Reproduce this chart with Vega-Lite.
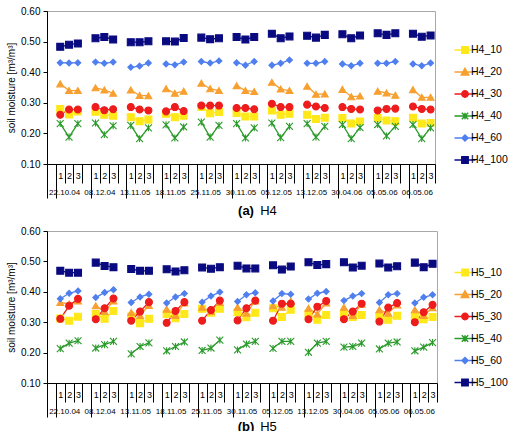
{
  "$schema": "https://vega.github.io/schema/vega-lite/v6.json",
  "padding": {"left": 6, "top": 5, "right": 0, "bottom": 0},
  "spacing": 7,
  "config": {"font": "Liberation Sans", "view": {"stroke": "#a8a8a8"}, "axis": {"domainColor": "#000", "tickColor": "#000", "labelColor": "#000", "titleColor": "#000", "grid": false}},
  "datasets": {
    "h4": [
      {"d":"22.10.04","x":"22.10.04|1","H4_10":0.280,"H4_20":0.362,"H4_30":0.261,"H4_40":0.232,"H4_60":0.431,"H4_100":0.483},
      {"d":"22.10.04","x":"22.10.04|2","H4_10":0.262,"H4_20":0.340,"H4_30":0.278,"H4_40":0.188,"H4_60":0.430,"H4_100":0.490},
      {"d":"22.10.04","x":"22.10.04|3","H4_10":0.272,"H4_20":0.340,"H4_30":0.278,"H4_40":0.232,"H4_60":0.431,"H4_100":0.494},
      {"d":"08.12.04","x":"08.12.04|1","H4_10":0.271,"H4_20":0.349,"H4_30":0.286,"H4_40":0.234,"H4_60":0.433,"H4_100":0.511},
      {"d":"08.12.04","x":"08.12.04|2","H4_10":0.261,"H4_20":0.342,"H4_30":0.276,"H4_40":0.196,"H4_60":0.429,"H4_100":0.515},
      {"d":"08.12.04","x":"08.12.04|3","H4_10":0.258,"H4_20":0.331,"H4_30":0.279,"H4_40":0.225,"H4_60":0.433,"H4_100":0.507},
      {"d":"13.11.05","x":"13.11.05|1","H4_10":0.253,"H4_20":0.342,"H4_30":0.286,"H4_40":0.226,"H4_60":0.416,"H4_100":0.498},
      {"d":"13.11.05","x":"13.11.05|2","H4_10":0.240,"H4_20":0.324,"H4_30":0.278,"H4_40":0.183,"H4_60":0.420,"H4_100":0.498},
      {"d":"13.11.05","x":"13.11.05|3","H4_10":0.245,"H4_20":0.323,"H4_30":0.275,"H4_40":0.218,"H4_60":0.430,"H4_100":0.501},
      {"d":"18.11.05","x":"18.11.05|1","H4_10":0.264,"H4_20":0.346,"H4_30":0.272,"H4_40":0.228,"H4_60":0.427,"H4_100":0.501},
      {"d":"18.11.05","x":"18.11.05|2","H4_10":0.253,"H4_20":0.331,"H4_30":0.286,"H4_40":0.185,"H4_60":0.424,"H4_100":0.500},
      {"d":"18.11.05","x":"18.11.05|3","H4_10":0.258,"H4_20":0.338,"H4_30":0.273,"H4_40":0.221,"H4_60":0.433,"H4_100":0.512},
      {"d":"25.11.05","x":"25.11.05|1","H4_10":0.286,"H4_20":0.364,"H4_30":0.291,"H4_40":0.237,"H4_60":0.435,"H4_100":0.513},
      {"d":"25.11.05","x":"25.11.05|2","H4_10":0.266,"H4_20":0.346,"H4_30":0.291,"H4_40":0.188,"H4_60":0.430,"H4_100":0.508},
      {"d":"25.11.05","x":"25.11.05|3","H4_10":0.270,"H4_20":0.340,"H4_30":0.291,"H4_40":0.226,"H4_60":0.437,"H4_100":0.511},
      {"d":"30.11.05","x":"30.11.05|1","H4_10":0.267,"H4_20":0.356,"H4_30":0.283,"H4_40":0.232,"H4_60":0.431,"H4_100":0.515},
      {"d":"30.11.05","x":"30.11.05|2","H4_10":0.255,"H4_20":0.340,"H4_30":0.283,"H4_40":0.185,"H4_60":0.423,"H4_100":0.507},
      {"d":"30.11.05","x":"30.11.05|3","H4_10":0.255,"H4_20":0.337,"H4_30":0.279,"H4_40":0.218,"H4_60":0.435,"H4_100":0.515},
      {"d":"05.12.05","x":"05.12.05|1","H4_10":0.275,"H4_20":0.367,"H4_30":0.297,"H4_40":0.234,"H4_60":0.423,"H4_100":0.526},
      {"d":"05.12.05","x":"05.12.05|2","H4_10":0.261,"H4_20":0.345,"H4_30":0.286,"H4_40":0.186,"H4_60":0.429,"H4_100":0.511},
      {"d":"05.12.05","x":"05.12.05|3","H4_10":0.264,"H4_20":0.340,"H4_30":0.286,"H4_40":0.223,"H4_60":0.440,"H4_100":0.517},
      {"d":"13.12.05","x":"13.12.05|1","H4_10":0.261,"H4_20":0.354,"H4_30":0.294,"H4_40":0.232,"H4_60":0.429,"H4_100":0.519},
      {"d":"13.12.05","x":"13.12.05|2","H4_10":0.247,"H4_20":0.328,"H4_30":0.288,"H4_40":0.188,"H4_60":0.429,"H4_100":0.513},
      {"d":"13.12.05","x":"13.12.05|3","H4_10":0.251,"H4_20":0.329,"H4_30":0.283,"H4_40":0.223,"H4_60":0.435,"H4_100":0.522},
      {"d":"30.04.06","x":"30.04.06|1","H4_10":0.250,"H4_20":0.344,"H4_30":0.286,"H4_40":0.229,"H4_60":0.427,"H4_100":0.524},
      {"d":"30.04.06","x":"30.04.06|2","H4_10":0.232,"H4_20":0.320,"H4_30":0.280,"H4_40":0.183,"H4_60":0.421,"H4_100":0.511},
      {"d":"30.04.06","x":"30.04.06|3","H4_10":0.239,"H4_20":0.322,"H4_30":0.278,"H4_40":0.219,"H4_60":0.429,"H4_100":0.520},
      {"d":"05.05.06","x":"05.05.06|1","H4_10":0.250,"H4_20":0.338,"H4_30":0.275,"H4_40":0.229,"H4_60":0.429,"H4_100":0.527},
      {"d":"05.05.06","x":"05.05.06|2","H4_10":0.242,"H4_20":0.332,"H4_30":0.280,"H4_40":0.192,"H4_60":0.429,"H4_100":0.522},
      {"d":"05.05.06","x":"05.05.06|3","H4_10":0.240,"H4_20":0.325,"H4_30":0.281,"H4_40":0.223,"H4_60":0.435,"H4_100":0.527},
      {"d":"06.05.06","x":"06.05.06|1","H4_10":0.251,"H4_20":0.343,"H4_30":0.288,"H4_40":0.229,"H4_60":0.427,"H4_100":0.526},
      {"d":"06.05.06","x":"06.05.06|2","H4_10":0.232,"H4_20":0.318,"H4_30":0.280,"H4_40":0.183,"H4_60":0.421,"H4_100":0.516},
      {"d":"06.05.06","x":"06.05.06|3","H4_10":0.234,"H4_20":0.318,"H4_30":0.278,"H4_40":0.218,"H4_60":0.430,"H4_100":0.520}
    ],
    "h5": [
      {"d":"22.10.04","x":"22.10.04|1","H5_10":0.312,"H5_20":0.365,"H5_30":0.311,"H5_40":0.213,"H5_60":0.377,"H5_100":0.469},
      {"d":"22.10.04","x":"22.10.04|2","H5_10":0.305,"H5_20":0.360,"H5_30":0.354,"H5_40":0.231,"H5_60":0.395,"H5_100":0.463},
      {"d":"22.10.04","x":"22.10.04|3","H5_10":0.318,"H5_20":0.370,"H5_30":0.377,"H5_40":0.239,"H5_60":0.403,"H5_100":0.463},
      {"d":"08.12.04","x":"08.12.04|1","H5_10":0.327,"H5_20":0.354,"H5_30":0.310,"H5_40":0.215,"H5_60":0.381,"H5_100":0.496},
      {"d":"08.12.04","x":"08.12.04|2","H5_10":0.311,"H5_20":0.335,"H5_30":0.346,"H5_40":0.226,"H5_60":0.398,"H5_100":0.485},
      {"d":"08.12.04","x":"08.12.04|3","H5_10":0.337,"H5_20":0.370,"H5_30":0.378,"H5_40":0.237,"H5_60":0.407,"H5_100":0.481},
      {"d":"13.11.05","x":"13.11.05|1","H5_10":0.319,"H5_20":0.332,"H5_30":0.305,"H5_40":0.196,"H5_60":0.365,"H5_100":0.475},
      {"d":"13.11.05","x":"13.11.05|2","H5_10":0.297,"H5_20":0.322,"H5_30":0.335,"H5_40":0.220,"H5_60":0.383,"H5_100":0.469},
      {"d":"13.11.05","x":"13.11.05|3","H5_10":0.311,"H5_20":0.355,"H5_30":0.366,"H5_40":0.232,"H5_60":0.392,"H5_100":0.469},
      {"d":"18.11.05","x":"18.11.05|1","H5_10":0.327,"H5_20":0.343,"H5_30":0.298,"H5_40":0.206,"H5_60":0.363,"H5_100":0.474},
      {"d":"18.11.05","x":"18.11.05|2","H5_10":0.313,"H5_20":0.322,"H5_30":0.337,"H5_40":0.220,"H5_60":0.383,"H5_100":0.467},
      {"d":"18.11.05","x":"18.11.05|3","H5_10":0.327,"H5_20":0.363,"H5_30":0.366,"H5_40":0.235,"H5_60":0.394,"H5_100":0.471},
      {"d":"25.11.05","x":"25.11.05|1","H5_10":0.344,"H5_20":0.349,"H5_30":0.305,"H5_40":0.207,"H5_60":0.366,"H5_100":0.480},
      {"d":"25.11.05","x":"25.11.05|2","H5_10":0.331,"H5_20":0.335,"H5_30":0.340,"H5_40":0.215,"H5_60":0.386,"H5_100":0.476},
      {"d":"25.11.05","x":"25.11.05|3","H5_10":0.344,"H5_20":0.365,"H5_30":0.371,"H5_40":0.241,"H5_60":0.399,"H5_100":0.481},
      {"d":"30.11.05","x":"30.11.05|1","H5_10":0.333,"H5_20":0.349,"H5_30":0.306,"H5_40":0.209,"H5_60":0.368,"H5_100":0.486},
      {"d":"30.11.05","x":"30.11.05|2","H5_10":0.316,"H5_20":0.330,"H5_30":0.346,"H5_40":0.228,"H5_60":0.390,"H5_100":0.477},
      {"d":"30.11.05","x":"30.11.05|3","H5_10":0.331,"H5_20":0.370,"H5_30":0.371,"H5_40":0.237,"H5_60":0.397,"H5_100":0.477},
      {"d":"05.12.05","x":"05.12.05|1","H5_10":0.346,"H5_20":0.354,"H5_30":0.305,"H5_40":0.214,"H5_60":0.370,"H5_100":0.487},
      {"d":"05.12.05","x":"05.12.05|2","H5_10":0.317,"H5_20":0.349,"H5_30":0.361,"H5_40":0.237,"H5_60":0.394,"H5_100":0.473},
      {"d":"05.12.05","x":"05.12.05|3","H5_10":0.341,"H5_20":0.370,"H5_30":0.361,"H5_40":0.237,"H5_60":0.392,"H5_100":0.483},
      {"d":"13.12.05","x":"13.12.05|1","H5_10":0.328,"H5_20":0.346,"H5_30":0.310,"H5_40":0.201,"H5_60":0.376,"H5_100":0.497},
      {"d":"13.12.05","x":"13.12.05|2","H5_10":0.308,"H5_20":0.327,"H5_30":0.351,"H5_40":0.231,"H5_60":0.395,"H5_100":0.488},
      {"d":"13.12.05","x":"13.12.05|3","H5_10":0.324,"H5_20":0.363,"H5_30":0.370,"H5_40":0.237,"H5_60":0.401,"H5_100":0.491},
      {"d":"30.04.06","x":"30.04.06|1","H5_10":0.328,"H5_20":0.349,"H5_30":0.310,"H5_40":0.218,"H5_60":0.371,"H5_100":0.497},
      {"d":"30.04.06","x":"30.04.06|2","H5_10":0.317,"H5_20":0.322,"H5_30":0.335,"H5_40":0.220,"H5_60":0.386,"H5_100":0.480},
      {"d":"30.04.06","x":"30.04.06|3","H5_10":0.324,"H5_20":0.359,"H5_30":0.361,"H5_40":0.231,"H5_60":0.394,"H5_100":0.486},
      {"d":"05.05.06","x":"05.05.06|1","H5_10":0.319,"H5_20":0.341,"H5_30":0.302,"H5_40":0.212,"H5_60":0.365,"H5_100":0.493},
      {"d":"05.05.06","x":"05.05.06|2","H5_10":0.308,"H5_20":0.330,"H5_30":0.348,"H5_40":0.231,"H5_60":0.390,"H5_100":0.480},
      {"d":"05.05.06","x":"05.05.06|3","H5_10":0.321,"H5_20":0.357,"H5_30":0.363,"H5_40":0.235,"H5_60":0.394,"H5_100":0.484},
      {"d":"06.05.06","x":"06.05.06|1","H5_10":0.319,"H5_20":0.341,"H5_30":0.300,"H5_40":0.206,"H5_60":0.363,"H5_100":0.496},
      {"d":"06.05.06","x":"06.05.06|2","H5_10":0.310,"H5_20":0.322,"H5_30":0.333,"H5_40":0.218,"H5_60":0.382,"H5_100":0.481},
      {"d":"06.05.06","x":"06.05.06|3","H5_10":0.317,"H5_20":0.348,"H5_30":0.357,"H5_40":0.233,"H5_60":0.390,"H5_100":0.492}
    ]
  },
  "vconcat": [
    {
      "width": 388, "height": 153,
      "data": {"name": "h4"},
      "transform": [{"fold": ["H4_10","H4_20","H4_30","H4_40","H4_60","H4_100"], "as": ["s","v"]}],
      "layer": [
        {
          "layer": [
            {
              "mark": {"type": "line", "strokeWidth": 1.3},
              "encoding": {
                "x": {"field": "x", "type": "nominal", "scale": {"type": "band", "paddingInner": 0, "paddingOuter": 0, "domain": ["22.10.04|0","22.10.04|1","22.10.04|2","22.10.04|3","08.12.04|0","08.12.04|1","08.12.04|2","08.12.04|3","13.11.05|0","13.11.05|1","13.11.05|2","13.11.05|3","18.11.05|0","18.11.05|1","18.11.05|2","18.11.05|3","25.11.05|0","25.11.05|1","25.11.05|2","25.11.05|3","30.11.05|0","30.11.05|1","30.11.05|2","30.11.05|3","05.12.05|0","05.12.05|1","05.12.05|2","05.12.05|3","13.12.05|0","13.12.05|1","13.12.05|2","13.12.05|3","30.04.06|0","30.04.06|1","30.04.06|2","30.04.06|3","05.05.06|0","05.05.06|1","05.05.06|2","05.05.06|3","06.05.06|0","06.05.06|1","06.05.06|2","06.05.06|3"]},
                  "axis": {"orient": "bottom", "values": ["22.10.04|0","22.10.04|1","22.10.04|2","22.10.04|3","08.12.04|0","08.12.04|1","08.12.04|2","08.12.04|3","13.11.05|0","13.11.05|1","13.11.05|2","13.11.05|3","18.11.05|0","18.11.05|1","18.11.05|2","18.11.05|3","25.11.05|0","25.11.05|1","25.11.05|2","25.11.05|3","30.11.05|0","30.11.05|1","30.11.05|2","30.11.05|3","05.12.05|0","05.12.05|1","05.12.05|2","05.12.05|3","13.12.05|0","13.12.05|1","13.12.05|2","13.12.05|3","30.04.06|0","30.04.06|1","30.04.06|2","30.04.06|3","05.05.06|0","05.05.06|1","05.05.06|2","05.05.06|3","06.05.06|0","06.05.06|1","06.05.06|2","06.05.06|3"],
                    "tickBand": "extent", "labelAngle": 0, "labelFontSize": 9, "labelOverlap": false, "labelBound": false, "labelFlush": false,
                    "labelExpr": "isString(datum.value) && split(datum.value,'|')[1] != '0' ? split(datum.value,'|')[1] : ''",
                    "tickSize": {"condition": {"test": "!isString(datum.value) || split(datum.value,'|')[1] == '0'", "value": 34}, "value": 19},
                    "labelPadding": -11.5,
                    "title": "(a)", "titleFontSize": 13, "titleFontWeight": "bold", "titleX": 198.5, "titleY": 46, "titleAlign": "center", "titleBaseline": "middle"}
                },
                "y": {"field": "v", "type": "quantitative", "scale": {"domain": [0.1, 0.6], "nice": false, "zero": false},
                  "axis": {"values": [0.1,0.2,0.3,0.4,0.5,0.6], "format": ".2f", "labelOverlap": false, "labelSeparation": 0, "labelBound": false, "title": "soil moisture [m³/m³]", "tickSize": 4, "labelPadding": 3, "labelFontSize": 10, "titleFontSize": 10, "titleFontWeight": "normal", "titlePadding": 4}},
                "color": {"field": "s", "type": "nominal", "legend": null, "scale": {"domain": ["H4_10","H4_20","H4_30","H4_40","H4_60","H4_100"], "range": ["#FFE81A","#F7A030","#EE1C1C","#2A9A2A","#4F7FEF","#0A0A80"]}},
                "detail": {"field": "d"}
              }
            },
            {
              "mark": {"type": "point", "filled": true, "size": 48, "opacity": 1, "strokeWidth": 1.1},
              "encoding": {
                "x": {"field": "x", "type": "nominal"},
                "y": {"field": "v", "type": "quantitative",
                  "axis": {"values": [0.1,0.2,0.3,0.4,0.5,0.6], "format": ".2f", "labelOverlap": false, "labelSeparation": 0, "labelBound": false, "title": "soil moisture [m³/m³]", "tickSize": 4, "labelPadding": 3, "labelFontSize": 10, "titleFontSize": 10, "titleFontWeight": "normal", "titlePadding": 4}},
                "color": {"field": "s", "type": "nominal", "legend": null},
                "shape": {"field": "s", "type": "nominal", "legend": null, "scale": {"domain": ["H4_10","H4_20","H4_30","H4_40","H4_60","H4_100"], "range": ["square","triangle-up","circle","M-1,-1L1,1M-1,1L1,-1M0,-1V1","M0,-0.85L0.85,0L0,0.85L-0.85,0Z","square"]}},
                "stroke": {"field": "s", "type": "nominal", "legend": null, "scale": {"domain": ["H4_10","H4_20","H4_30","H4_40","H4_60","H4_100"], "range": ["#FFE81A","#F7A030","#EE1C1C","#2A9A2A","#4F7FEF","#0A0A80"]}}
              }
            }
          ]
        },
        {
          "mark": {"type": "point", "opacity": 0, "filled": true},
          "encoding": {
            "x": {"field": "d", "type": "nominal", "scale": {"type": "band", "paddingInner": 0, "paddingOuter": 0, "domain": ["22.10.04","08.12.04","13.11.05","18.11.05","25.11.05","30.11.05","05.12.05","13.12.05","30.04.06","05.05.06","06.05.06"]},
              "axis": {"orient": "bottom", "domain": false, "ticks": false, "tickSize": 0, "labelPadding": 24, "labelFontSize": 8, "labelAngle": 0, "labelOverlap": false, "labelBound": false, "labelFlush": false,
                "title": "H4", "titleFontSize": 13, "titleFontWeight": "normal", "titleX": 221, "titleY": 46, "titleAlign": "center", "titleBaseline": "middle"}},
            "color": {"field": "s", "type": "nominal", "scale": {"domain": ["H4_10","H4_20","H4_30","H4_40","H4_60","H4_100"], "range": ["#FFE81A","#F7A030","#EE1C1C","#2A9A2A","#4F7FEF","#0A0A80"]},
              "legend": {"orient": "none", "legendX": 408, "legendY": 29, "title": null, "symbolSize": 313, "symbolOpacity": 1, "symbolStrokeWidth": 1.5, "labelFontSize": 10.5, "labelOffset": -4, "rowPadding": 5, "padding": 0}},
            "stroke": {"field": "s", "type": "nominal", "scale": {"domain": ["H4_10","H4_20","H4_30","H4_40","H4_60","H4_100"], "range": ["#FFE81A","#F7A030","#EE1C1C","#2A9A2A","#4F7FEF","#0A0A80"]},
              "legend": {"orient": "none", "legendX": 408, "legendY": 29, "title": null, "symbolSize": 313, "symbolOpacity": 1, "symbolStrokeWidth": 1.5, "labelFontSize": 10.5, "labelOffset": -4, "rowPadding": 5, "padding": 0}},
            "shape": {"field": "s", "type": "nominal", "scale": {"domain": ["H4_10","H4_20","H4_30","H4_40","H4_60","H4_100"], "range": ["M-1.19,0H1.19M-0.36,-0.36H0.36V0.36H-0.36Z","M-1.19,0H1.19M0,-0.42L0.42,0.34H-0.42Z","M-1.19,0H1.19M0.36,0A0.36,0.36,0,1,1,-0.36,0A0.36,0.36,0,1,1,0.36,0Z","M-1.19,0H1.19M-0.36,-0.36L0.36,0.36M-0.36,0.36L0.36,-0.36M0,-0.36V0.36","M-1.19,0H1.19M0,-0.34L0.34,0L0,0.34L-0.34,0Z","M-1.19,0H1.19M-0.36,-0.36H0.36V0.36H-0.36Z"]},
              "legend": {"orient": "none", "legendX": 408, "legendY": 29, "title": null, "symbolSize": 313, "symbolOpacity": 1, "symbolStrokeWidth": 1.5, "labelFontSize": 10.5, "labelOffset": -4, "rowPadding": 5, "padding": 0}}
          }
        }
      ],
      "resolve": {"scale": {"x": "independent", "color": "independent", "stroke": "independent", "shape": "independent"}, "axis": {"x": "independent"}}
    },
    {
      "width": 390, "height": 152,
      "data": {"name": "h5"},
      "transform": [{"fold": ["H5_10","H5_20","H5_30","H5_40","H5_60","H5_100"], "as": ["s","v"]}],
      "layer": [
        {
          "layer": [
            {
              "mark": {"type": "line", "strokeWidth": 1.3},
              "encoding": {
                "x": {"field": "x", "type": "nominal", "scale": {"type": "band", "paddingInner": 0, "paddingOuter": 0, "domain": ["22.10.04|0","22.10.04|1","22.10.04|2","22.10.04|3","08.12.04|0","08.12.04|1","08.12.04|2","08.12.04|3","13.11.05|0","13.11.05|1","13.11.05|2","13.11.05|3","18.11.05|0","18.11.05|1","18.11.05|2","18.11.05|3","25.11.05|0","25.11.05|1","25.11.05|2","25.11.05|3","30.11.05|0","30.11.05|1","30.11.05|2","30.11.05|3","05.12.05|0","05.12.05|1","05.12.05|2","05.12.05|3","13.12.05|0","13.12.05|1","13.12.05|2","13.12.05|3","30.04.06|0","30.04.06|1","30.04.06|2","30.04.06|3","05.05.06|0","05.05.06|1","05.05.06|2","05.05.06|3","06.05.06|0","06.05.06|1","06.05.06|2","06.05.06|3"]},
                  "axis": {"orient": "bottom", "values": ["22.10.04|0","22.10.04|1","22.10.04|2","22.10.04|3","08.12.04|0","08.12.04|1","08.12.04|2","08.12.04|3","13.11.05|0","13.11.05|1","13.11.05|2","13.11.05|3","18.11.05|0","18.11.05|1","18.11.05|2","18.11.05|3","25.11.05|0","25.11.05|1","25.11.05|2","25.11.05|3","30.11.05|0","30.11.05|1","30.11.05|2","30.11.05|3","05.12.05|0","05.12.05|1","05.12.05|2","05.12.05|3","13.12.05|0","13.12.05|1","13.12.05|2","13.12.05|3","30.04.06|0","30.04.06|1","30.04.06|2","30.04.06|3","05.05.06|0","05.05.06|1","05.05.06|2","05.05.06|3","06.05.06|0","06.05.06|1","06.05.06|2","06.05.06|3"],
                    "tickBand": "extent", "labelAngle": 0, "labelFontSize": 9, "labelOverlap": false, "labelBound": false, "labelFlush": false,
                    "labelExpr": "isString(datum.value) && split(datum.value,'|')[1] != '0' ? split(datum.value,'|')[1] : ''",
                    "tickSize": {"condition": {"test": "!isString(datum.value) || split(datum.value,'|')[1] == '0'", "value": 34}, "value": 19},
                    "labelPadding": -11.5,
                    "title": "(b)", "titleFontSize": 13, "titleFontWeight": "bold", "titleX": 198.5, "titleY": 43, "titleAlign": "center", "titleBaseline": "middle"}
                },
                "y": {"field": "v", "type": "quantitative", "scale": {"domain": [0.1, 0.6], "nice": false, "zero": false},
                  "axis": {"values": [0.1,0.2,0.3,0.4,0.5,0.6], "format": ".2f", "labelOverlap": false, "labelSeparation": 0, "labelBound": false, "title": "soil moisture [m³/m³]", "tickSize": 4, "labelPadding": 3, "labelFontSize": 10, "titleFontSize": 10, "titleFontWeight": "normal", "titlePadding": 4}},
                "color": {"field": "s", "type": "nominal", "legend": null, "scale": {"domain": ["H5_10","H5_20","H5_30","H5_40","H5_60","H5_100"], "range": ["#FFE81A","#F7A030","#EE1C1C","#2A9A2A","#4F7FEF","#0A0A80"]}},
                "detail": {"field": "d"}
              }
            },
            {
              "mark": {"type": "point", "filled": true, "size": 48, "opacity": 1, "strokeWidth": 1.1},
              "encoding": {
                "x": {"field": "x", "type": "nominal"},
                "y": {"field": "v", "type": "quantitative",
                  "axis": {"values": [0.1,0.2,0.3,0.4,0.5,0.6], "format": ".2f", "labelOverlap": false, "labelSeparation": 0, "labelBound": false, "title": "soil moisture [m³/m³]", "tickSize": 4, "labelPadding": 3, "labelFontSize": 10, "titleFontSize": 10, "titleFontWeight": "normal", "titlePadding": 4}},
                "color": {"field": "s", "type": "nominal", "legend": null},
                "shape": {"field": "s", "type": "nominal", "legend": null, "scale": {"domain": ["H5_10","H5_20","H5_30","H5_40","H5_60","H5_100"], "range": ["square","triangle-up","circle","M-1,-1L1,1M-1,1L1,-1M0,-1V1","M0,-0.85L0.85,0L0,0.85L-0.85,0Z","square"]}},
                "stroke": {"field": "s", "type": "nominal", "legend": null, "scale": {"domain": ["H5_10","H5_20","H5_30","H5_40","H5_60","H5_100"], "range": ["#FFE81A","#F7A030","#EE1C1C","#2A9A2A","#4F7FEF","#0A0A80"]}}
              }
            }
          ]
        },
        {
          "mark": {"type": "point", "opacity": 0, "filled": true},
          "encoding": {
            "x": {"field": "d", "type": "nominal", "scale": {"type": "band", "paddingInner": 0, "paddingOuter": 0, "domain": ["22.10.04","08.12.04","13.11.05","18.11.05","25.11.05","30.11.05","05.12.05","13.12.05","30.04.06","05.05.06","06.05.06"]},
              "axis": {"orient": "bottom", "domain": false, "ticks": false, "tickSize": 0, "labelPadding": 24, "labelFontSize": 8, "labelAngle": 0, "labelOverlap": false, "labelBound": false, "labelFlush": false,
                "title": "H5", "titleFontSize": 13, "titleFontWeight": "normal", "titleX": 221, "titleY": 43, "titleAlign": "center", "titleBaseline": "middle"}},
            "color": {"field": "s", "type": "nominal", "scale": {"domain": ["H5_10","H5_20","H5_30","H5_40","H5_60","H5_100"], "range": ["#FFE81A","#F7A030","#EE1C1C","#2A9A2A","#4F7FEF","#0A0A80"]},
              "legend": {"orient": "none", "legendX": 408, "legendY": 31.5, "title": null, "symbolSize": 313, "symbolOpacity": 1, "symbolStrokeWidth": 1.5, "labelFontSize": 10.5, "labelOffset": -4, "rowPadding": 5, "padding": 0}},
            "stroke": {"field": "s", "type": "nominal", "scale": {"domain": ["H5_10","H5_20","H5_30","H5_40","H5_60","H5_100"], "range": ["#FFE81A","#F7A030","#EE1C1C","#2A9A2A","#4F7FEF","#0A0A80"]},
              "legend": {"orient": "none", "legendX": 408, "legendY": 31.5, "title": null, "symbolSize": 313, "symbolOpacity": 1, "symbolStrokeWidth": 1.5, "labelFontSize": 10.5, "labelOffset": -4, "rowPadding": 5, "padding": 0}},
            "shape": {"field": "s", "type": "nominal", "scale": {"domain": ["H5_10","H5_20","H5_30","H5_40","H5_60","H5_100"], "range": ["M-1.19,0H1.19M-0.36,-0.36H0.36V0.36H-0.36Z","M-1.19,0H1.19M0,-0.42L0.42,0.34H-0.42Z","M-1.19,0H1.19M0.36,0A0.36,0.36,0,1,1,-0.36,0A0.36,0.36,0,1,1,0.36,0Z","M-1.19,0H1.19M-0.36,-0.36L0.36,0.36M-0.36,0.36L0.36,-0.36M0,-0.36V0.36","M-1.19,0H1.19M0,-0.34L0.34,0L0,0.34L-0.34,0Z","M-1.19,0H1.19M-0.36,-0.36H0.36V0.36H-0.36Z"]},
              "legend": {"orient": "none", "legendX": 408, "legendY": 31.5, "title": null, "symbolSize": 313, "symbolOpacity": 1, "symbolStrokeWidth": 1.5, "labelFontSize": 10.5, "labelOffset": -4, "rowPadding": 5, "padding": 0}}
          }
        }
      ],
      "resolve": {"scale": {"x": "independent", "color": "independent", "stroke": "independent", "shape": "independent"}, "axis": {"x": "independent"}}
    }
  ],
  "resolve": {"scale": {"x": "independent", "y": "independent", "color": "independent", "shape": "independent", "stroke": "independent"}}
}
